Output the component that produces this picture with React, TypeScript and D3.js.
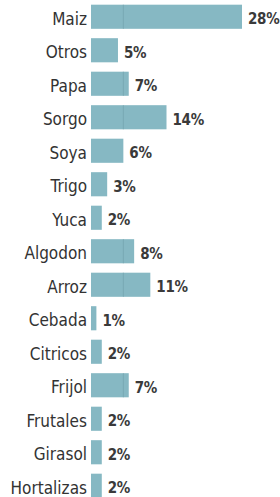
import React, { useEffect, useRef } from "react";
import * as d3 from "d3";

const crops = ["Maiz", "Otros", "Papa", "Sorgo", "Soya", "Trigo", "Yuca", "Algodon", "Arroz", "Cebada", "Citricos", "Frijol", "Frutales", "Girasol", "Hortalizas"];
const shares = [28, 5, 7, 14, 6, 3, 2, 8, 11, 1, 2, 7, 2, 2, 2];
const seamAt = 6; // faint seam inside the longer bars

export default function App() {
  const node = useRef<SVGSVGElement>(null);

  useEffect(() => {
    const width = 280;
    const height = 497;
    const svg = d3.select(node.current);
    svg.selectAll("*").remove();

    const data = crops.map((c, i) => ({ crop: c, value: shares[i] }));

    const x = d3.scaleLinear().domain([0, 28]).range([91, 242]);
    const y = d3.scaleBand<string>()
      .domain(crops)
      .range([0, 502.5])
      .paddingInner(0.28)
      .paddingOuter(0.14);

    const font = "'DejaVu Sans Condensed', 'Liberation Sans Narrow', sans-serif";

    svg.append("rect").attr("width", width).attr("height", height).attr("fill", "#ffffff");

    svg.append("g")
      .selectAll("rect")
      .data(data)
      .join("rect")
      .attr("x", x(0))
      .attr("y", d => y(d.crop)!)
      .attr("width", d => x(d.value) - x(0))
      .attr("height", y.bandwidth())
      .attr("fill", "#86b8c3");

    svg.append("g")
      .selectAll("line")
      .data(data.filter(d => d.value > seamAt))
      .join("line")
      .attr("x1", x(seamAt)).attr("x2", x(seamAt))
      .attr("y1", d => y(d.crop)!)
      .attr("y2", d => y(d.crop)! + y.bandwidth())
      .attr("stroke", "#72a2ad")
      .attr("stroke-width", 0.7);

    // category labels
    svg.append("g")
      .selectAll("text")
      .data(data)
      .join("text")
      .attr("x", 87)
      .attr("y", d => y(d.crop)! + y.bandwidth() / 2 + 8)
      .attr("text-anchor", "end")
      .attr("font-family", font)
      .attr("font-size", 17)
      .attr("fill", "#333333")
      .text(d => d.crop);

    // value labels
    svg.append("g")
      .selectAll("text")
      .data(data)
      .join("text")
      .attr("x", d => x(d.value) + 6)
      .attr("y", d => y(d.crop)! + y.bandwidth() / 2 + 7.5)
      .attr("font-family", font)
      .attr("font-size", 15)
      .attr("font-weight", "bold")
      .attr("letter-spacing", -0.3)
      .attr("fill", "#3a3a3a")
      .text(d => d.value + "%");
  }, []);

  return (
    <svg
      ref={node}
      width={280}
      height={497}
      style={{ position: "absolute", left: 0, top: 0 }}
    />
  );
}
